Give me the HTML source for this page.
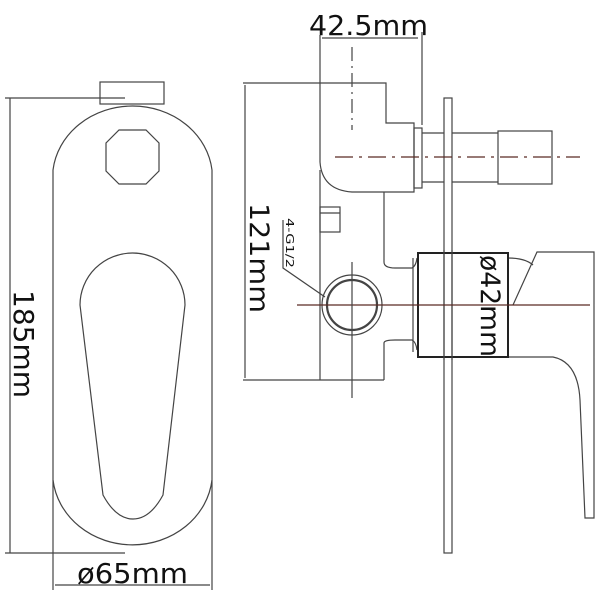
<!DOCTYPE html>
<html><head><meta charset="utf-8"><style>
html,body{margin:0;padding:0;background:#fff;width:600px;height:600px;overflow:hidden}
svg{display:block}
text{font-family:"DejaVu Sans","Liberation Sans",sans-serif;fill:#111}
</style></head><body>
<svg width="600" height="600" viewBox="0 0 600 600" xmlns="http://www.w3.org/2000/svg">
<g fill="none" stroke="#444" stroke-width="1.2">
<!-- LEFT VIEW -->
<line x1="5" y1="98" x2="125" y2="98"/>
<line x1="5" y1="553" x2="125" y2="553"/>
<line x1="10" y1="98" x2="10" y2="553"/>
<rect x="100" y="82" width="64" height="22"/>
<path d="M53,170 A80,72 0 0 1 212,170 L212,480 A80,73 0 0 1 53,480 Z" fill="#fff"/>
<polygon points="119,130 146,130 159,143 159,171 146,184 119,184 106,171 106,143"/>
<path d="M80,305 A52.5,52 0 0 1 185,305 L163,495 Q150,519 133,519 Q116,519 103,495 Z"/>
<line x1="53" y1="480" x2="53" y2="590"/>
<line x1="212" y1="480" x2="212" y2="590"/>
<line x1="55" y1="585" x2="210" y2="585"/>
<!-- RIGHT VIEW dims -->
<line x1="320" y1="35" x2="320" y2="83"/>
<line x1="422" y1="32" x2="422" y2="125"/>
<line x1="322" y1="38" x2="418" y2="38"/>
<line x1="243" y1="83" x2="320" y2="83"/>
<line x1="243" y1="380" x2="320" y2="380"/>
<line x1="245" y1="85" x2="245" y2="378"/>
<!-- body -->
<path d="M320,83 L386,83 L386,123 L414,123 L414,192 L352,192 Q322,190 320,162 Z"/>
<line x1="320" y1="170" x2="320" y2="380"/>
<line x1="352" y1="192" x2="352" y2="192"/>
<path d="M384,192 L384,262 Q384,268 395,268 L412,268 Q416,266 417,258"/>
<path d="M384,380 L384,343 Q384,340 395,340 L412,340 Q416,342 417,350"/>
<line x1="320" y1="380" x2="384" y2="380"/>
<rect x="320" y="207" width="20" height="25"/>
<line x1="320" y1="213" x2="340" y2="213"/>
<rect x="414" y="128" width="8" height="60"/>
<line x1="422" y1="133" x2="498" y2="133"/>
<line x1="422" y1="182" x2="498" y2="182"/>
<rect x="498" y="131" width="54" height="53"/>
<rect x="444" y="98" width="8" height="455" fill="#fff"/>
<path d="M413,258 L413,352 M418,253 L418,357"/>
<circle cx="352" cy="305" r="30"/>
<circle cx="352" cy="305" r="25" stroke-width="2.2"/>
<!-- handle -->
<path d="M508,258 Q525,258 533,265"/>
<path d="M513,305 L537,252 L594,252 L594,518 L585,518 L580,400 Q578,362 553,357 L508,357"/>
<!-- leader -->
<path d="M283,220 L283,268 L325,297"/>
</g>
<rect x="418" y="253" width="90" height="104" fill="none" stroke="#222" stroke-width="2"/>
<line x1="444" y1="250" x2="444" y2="360" stroke="#444" stroke-width="1.2"/>
<line x1="452" y1="250" x2="452" y2="360" stroke="#444" stroke-width="1.2"/>
<!-- centerlines -->
<g stroke="#5a2a24" stroke-width="1.2" fill="none">
<line x1="335" y1="157" x2="580" y2="157" stroke-dasharray="18,6,3,6"/>
<line x1="297" y1="305" x2="590" y2="305"/>
<line x1="352" y1="47" x2="352" y2="130" stroke="#444" stroke-dasharray="14,5,2,5"/>
<line x1="352" y1="262" x2="352" y2="398" stroke="#444"/>
</g>
<!-- text -->
<text x="309" y="35" font-size="28" textLength="119" lengthAdjust="spacingAndGlyphs">42.5mm</text>
<text x="77" y="583" font-size="28" textLength="111" lengthAdjust="spacingAndGlyphs">ø65mm</text>
<text transform="translate(14,290) rotate(90)" font-size="28" textLength="108" lengthAdjust="spacingAndGlyphs">185mm</text>
<text transform="translate(250,203) rotate(90)" font-size="27" textLength="110" lengthAdjust="spacingAndGlyphs">121mm</text>
<text transform="translate(286,218) rotate(90)" font-size="11" textLength="50" lengthAdjust="spacingAndGlyphs">4-G1/2</text>
<text transform="translate(481,255) rotate(90)" font-size="27" textLength="102" lengthAdjust="spacingAndGlyphs">ø42mm</text>
</svg>
</body></html>
